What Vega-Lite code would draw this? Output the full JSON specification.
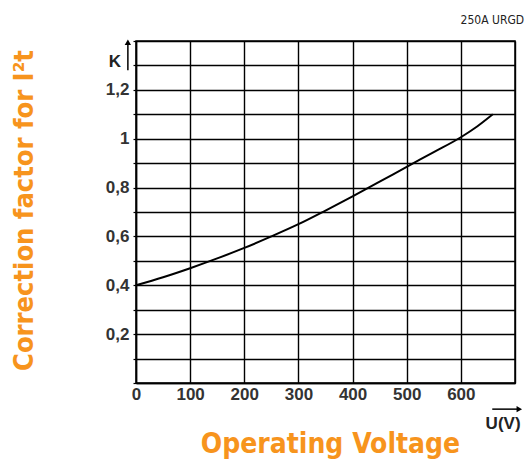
{
  "$schema": "https://vega.github.io/schema/vega-lite/v6.json",
  "autosize": "none",
  "width": 379,
  "height": 342,
  "padding": {"left": 136, "top": 41, "right": 15, "bottom": 83},
  "background": "white",
  "title": {
    "text": "250A URGD",
    "anchor": "end",
    "orient": "top",
    "offset": 5,
    "dx": 2,
    "fontSize": 12,
    "fontWeight": "normal",
    "font": "DejaVu Sans Condensed, Liberation Sans Narrow, sans-serif",
    "color": "#222"
  },
  "config": {
    "view": {"stroke": "black", "strokeWidth": 1.5},
    "axis": {
      "gridColor": "black",
      "gridWidth": 1.4,
      "gridOpacity": 1,
      "domainColor": "black",
      "domainWidth": 1.5,
      "ticks": false,
      "labelFont": "Liberation Sans, Arial, sans-serif",
      "labelFontSize": 17,
      "labelFontWeight": "bold",
      "labelColor": "#333",
      "titleFont": "DejaVu Sans Condensed, Liberation Sans Narrow, sans-serif",
      "titleFontWeight": "bold",
      "titleColor": "#F7941D"
    }
  },
  "datasets": {
    "curve": [
      {"U": 0, "K": 0.40},
      {"U": 50, "K": 0.433},
      {"U": 100, "K": 0.47},
      {"U": 150, "K": 0.51},
      {"U": 200, "K": 0.553},
      {"U": 250, "K": 0.60},
      {"U": 300, "K": 0.65},
      {"U": 350, "K": 0.706},
      {"U": 400, "K": 0.764},
      {"U": 450, "K": 0.824},
      {"U": 500, "K": 0.885},
      {"U": 550, "K": 0.945},
      {"U": 600, "K": 1.006},
      {"U": 630, "K": 1.05},
      {"U": 659, "K": 1.10}
    ]
  },
  "encoding": {
    "x": {
      "field": "U",
      "type": "quantitative",
      "scale": {"domain": [0, 700], "nice": false, "zero": false},
      "axis": {
        "values": [0, 100, 200, 300, 400, 500, 600, 700],
        "labelExpr": "datum.value == 700 ? '' : datum.label",
        "labelPadding": 3,
        "labelFlush": false,
        "labelOverlap": false,
        "title": "Operating Voltage",
        "titleFontSize": 28,
        "titleBaseline": "top",
        "titleY": 47,
        "titleX": 194
      }
    },
    "y": {
      "field": "K",
      "type": "quantitative",
      "scale": {"domain": [0, 1.4], "nice": false, "zero": false},
      "axis": {
        "values": [0, 0.1, 0.2, 0.3, 0.4, 0.5, 0.6, 0.7, 0.8, 0.9, 1.0, 1.1, 1.2, 1.3, 1.4],
        "labelExpr": "round(datum.value*10) == 10 ? '1' : ((round(datum.value*10) % 2 == 0 && round(datum.value*10) > 0 && round(datum.value*10) < 13) ? replace(format(datum.value, '.1f'), '.', ',') : '')",
        "labelPadding": 4,
        "labelFlush": false,
        "labelOverlap": false,
        "ticks": true,
        "tickSize": 3,
        "tickColor": "black",
        "tickWidth": 1.2,
        "title": "Correction factor for I²t",
        "titleFontSize": 27,
        "titleX": -98,
        "titleY": 169
      }
    }
  },
  "layer": [
    {
      "data": {"name": "curve"},
      "mark": {"type": "line", "color": "black", "strokeWidth": 2, "interpolate": "monotone"}
    },
    {
      "data": {"values": [{"U": -39, "K": 1.314, "t": "K"}, {"U": 678, "K": -0.166, "t": "U(V)"}]},
      "mark": {"type": "text", "font": "Liberation Sans, Arial, sans-serif", "fontSize": 17, "fontWeight": "bold", "color": "#222", "baseline": "middle", "align": "center"},
      "encoding": {
        "text": {"field": "t"}
      }
    },
    {
      "data": {"values": [{"U": -15, "K": 1.28, "K2": 1.39}, {"U": 658, "K": -0.107, "U2": 705}]},
      "mark": {"type": "rule", "color": "black", "strokeWidth": 1.5},
      "encoding": {
        "x2": {"field": "U2"},
        "y2": {"field": "K2"}
      }
    },
    {
      "data": {"values": [{"U": -15, "K": 1.395, "s": "triangle-up"}, {"U": 708, "K": -0.107, "s": "triangle-right"}]},
      "mark": {"type": "point", "filled": true, "color": "black", "size": 40, "opacity": 1},
      "encoding": {
        "shape": {"field": "s", "type": "nominal", "scale": null}
      }
    }
  ]
}
